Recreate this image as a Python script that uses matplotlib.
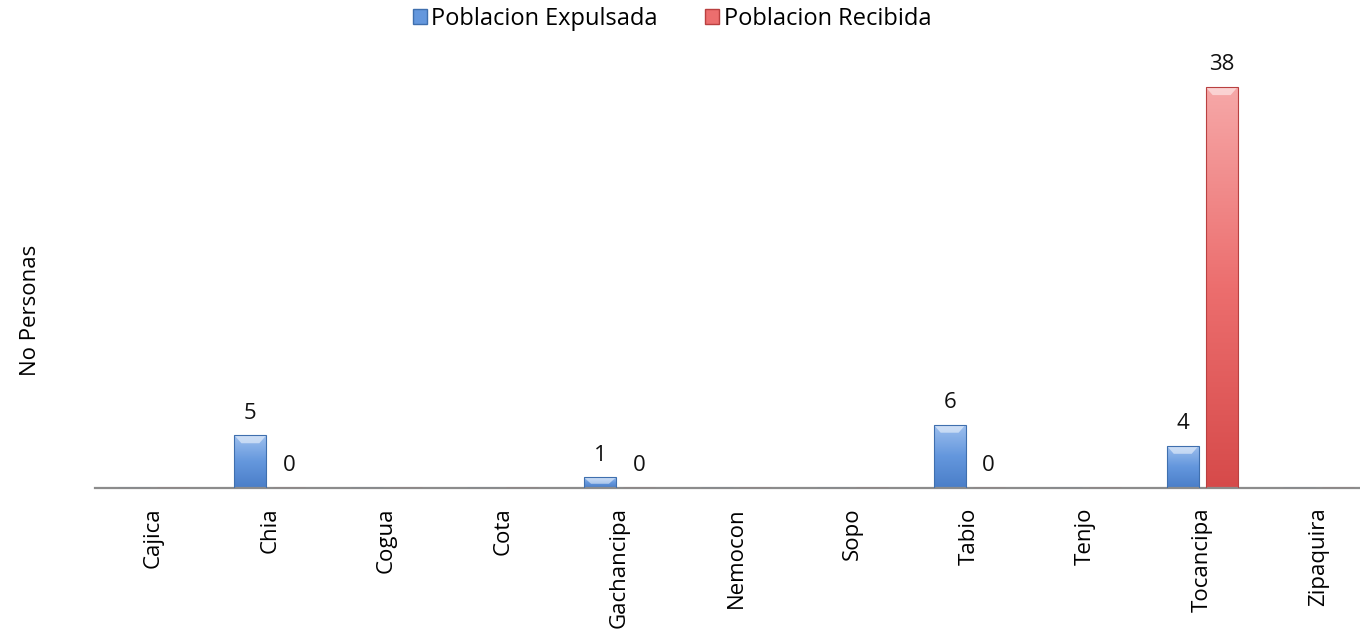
import numpy as np
import matplotlib.pyplot as plt
from matplotlib.colors import LinearSegmentedColormap
from matplotlib.patches import Patch, Polygon

plt.rcParams['font.family'] = ['Open Sans', 'DejaVu Sans']

municipios = ["Cajica", "Chia", "Cogua", "Cota", "Gachancipa", "Nemocon",
              "Sopo", "Tabio", "Tenjo", "Tocancipa", "Zipaquira"]
expulsada = [np.nan, 5, np.nan, np.nan, 1, np.nan, np.nan, 6, np.nan, 4, np.nan]
recibida = [np.nan, 0, np.nan, np.nan, 0, np.nan, np.nan, 0, np.nan, 38, np.nan]
series_names = ["Poblacion Expulsada", "Poblacion Recibida"]

# colores (arriba claro, abajo oscuro)
azul = ["#9ec0ee", "#6497dd", "#4a7ec8"]
rojo = ["#f6a8a8", "#ec6e6e", "#d64a4a"]

fig = plt.figure(figsize=(13.6, 6.32), dpi=100)
W, H = 1360, 632
ax = fig.add_axes([95 / W, (H - 488) / H, 1282 / W, 422 / H])

x = np.arange(len(municipios))
bw = 0.274
off = 0.167
px_y = 40 / 422      # unidades de datos por pixel (vertical)
px_x = 11 / 1282


def barras_gradiente(ax, xs, vals, colores, borde):
    cmap = LinearSegmentedColormap.from_list("g", colores[::-1])
    grad = np.linspace(0, 1, 256).reshape(-1, 1)
    rects = ax.bar(xs, np.nan_to_num(vals), bw, color="none", edgecolor=borde,
                   linewidth=0.8, zorder=3)
    for r, v in zip(rects, vals):
        if np.isnan(v) or v <= 0:
            continue
        x0, w, h = r.get_x(), r.get_width(), r.get_height()
        im = ax.imshow(grad, cmap=cmap, aspect="auto", origin="lower",
                       extent=[x0, x0 + w, 0, h], zorder=2)
        im.set_clip_path(r)
        # bisel superior
        bh = min(8 * px_y, h * 0.6)
        ins = 7 * px_x
        ax.add_patch(Polygon([(x0, h), (x0 + w, h), (x0 + w - ins, h - bh),
                              (x0 + ins, h - bh)], closed=True, facecolor="white",
                             alpha=0.5, edgecolor="none", zorder=2.5))
    return rects


barras_gradiente(ax, x - off, expulsada, azul, "#3f6fae")
barras_gradiente(ax, x + off, recibida, rojo, "#b94040")

for xs, vals in ((x - off, expulsada), (x + off, recibida)):
    for xi, v in zip(xs, vals):
        if np.isnan(v):
            continue
        ax.annotate(f"{v:.0f}", (xi, v), xytext=(0, 12), textcoords="offset points",
                    ha="center", va="baseline", fontsize=16, color="#111111")

ax.set_xlim(-0.5, len(municipios) - 0.5)
ax.set_ylim(0, 40)
ax.set_xticks(x)
ax.set_xticklabels(municipios, rotation=90, fontsize=16, va="top")
ax.tick_params(axis="x", length=0, pad=14)
ax.set_yticks([])
for s in ("top", "right", "left"):
    ax.spines[s].set_visible(False)
ax.spines["bottom"].set_color("#8c8c8c")
ax.spines["bottom"].set_linewidth(1.6)
ax.set_facecolor("none")

fig.text(30 / W, 1 - 310 / H, "No Personas", rotation=90, ha="center", va="center",
         fontsize=16)

handles = [Patch(facecolor=azul[1], edgecolor="#3f6fae"),
           Patch(facecolor=rojo[1], edgecolor="#b94040")]
fig.legend(handles, series_names, loc="center", bbox_to_anchor=(672 / W, 1 - 19 / H),
           ncol=2, frameon=False, fontsize=17, handlelength=0.6, handleheight=0.6,
           handletextpad=0.2, columnspacing=2.0)

fig.savefig("out.png", dpi=100)
